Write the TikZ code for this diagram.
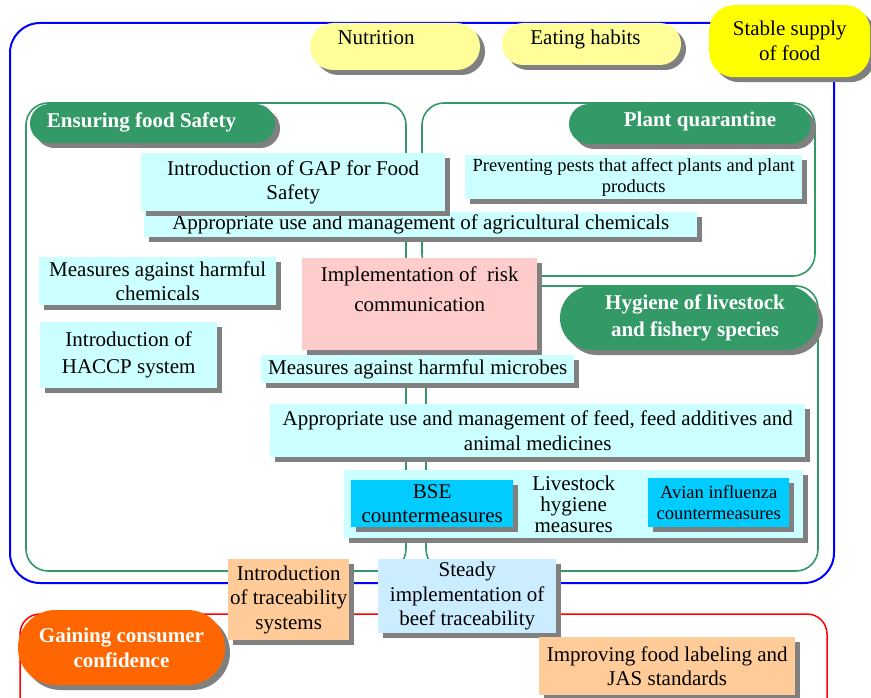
\documentclass[tikz,border=0pt]{standalone}
\usepackage{fontspec}
\setmainfont{Liberation Serif}
\usetikzlibrary{shapes.misc,shadows}
\definecolor{cyanbox}{HTML}{CCFFFF}
\definecolor{pinkbox}{HTML}{FFCCCC}
\definecolor{skybox}{HTML}{00CCFF}
\definecolor{peachbox}{HTML}{FFCC99}
\definecolor{steadybox}{HTML}{CCECFF}
\definecolor{greenpill}{HTML}{339966}
\definecolor{orangepill}{HTML}{FF6600}
\definecolor{lightyellow}{HTML}{FFFF99}
\definecolor{brightyellow}{HTML}{FFFF00}
\definecolor{shadowgray}{HTML}{808080}
\begin{document}
\begin{tikzpicture}[x=1pt,y=-1pt,
  sh/.style={general shadow={fill=shadowgray, shadow xshift=5pt, shadow yshift=-5pt}},
  box/.style={sh, draw=none, fill=#1, inner sep=0pt, align=center, anchor=north west,
    font=\fontsize{21}{24.5}\selectfont},
  pill/.style={box=#1, rounded rectangle, anchor=center},
  whitebold/.style={text=white, font=\fontsize{21}{25}\selectfont\bfseries},
  frame/.style={line width=1.6pt, draw=greenpill, rounded corners=22pt},
]
\useasboundingbox (0,0) rectangle (871,698);

% frames
\draw[line width=2pt, draw=blue, rounded corners=30pt] (10,23) rectangle (834,583);
\draw[frame] (26,103) rectangle (406,571);
\draw[frame] (422,103) rectangle (815,276);
\draw[frame] (426,286) rectangle (818,571);
\draw[line width=1.5pt, draw=red, rounded corners=20pt] (20,614) rectangle (827,730);

% top pills
\node[pill=lightyellow, minimum width=170pt, minimum height=47pt, text height=14pt, text depth=17pt] (nutr) at (395,46.5) {Nutrition\hspace{38pt}};
\node[pill=lightyellow, minimum width=179pt, minimum height=42pt, text height=14pt, text depth=12pt] (eat) at (591.5,44) {Eating habits\hspace{12pt}};
\node[box=brightyellow, rounded corners=25pt, minimum width=161pt, minimum height=72pt,
  font=\fontsize{21}{25}\selectfont] (stable) at (709,5) {Stable supply\\of food};

% section pills
\node[pill=greenpill, whitebold, minimum width=245pt, minimum height=39pt, text height=14pt, text depth=5pt] (efs) at (152.5,123.5) {Ensuring food Safety\hspace{22pt}};
\node[pill=greenpill, whitebold, minimum width=242pt, minimum height=40pt, text height=14pt, text depth=8pt] (pq) at (690,124) {\hspace{20pt}Plant quarantine};

% food safety boxes
\node[box=cyanbox, minimum width=553pt, minimum height=25pt] (agri) at (144,212) {Appropriate use and management of agricultural chemicals};
\node[box=cyanbox, minimum width=304pt, minimum height=58pt] (gap) at (141,153) {Introduction of GAP for Food\\Safety};
\node[box=cyanbox, minimum width=337pt, minimum height=44pt, font=\fontsize{18.5}{21}\selectfont] (pests) at (465,155) {Preventing pests that affect plants and plant\\products};
\node[box=cyanbox, minimum width=237pt, minimum height=48pt] (harmchem) at (39,257) {Measures against harmful\\chemicals};
\node[box=cyanbox, minimum width=177pt, minimum height=66pt, font=\fontsize{21}{27}\selectfont] (haccp) at (40,322) {Introduction of\\HACCP system};
\node[box=pinkbox, minimum width=235pt, minimum height=92pt, font=\fontsize{21}{30}\selectfont] (risk) at (302,258) {Implementation of\ \ risk\\communication\\ ~};
\node[box=cyanbox, minimum width=313pt, minimum height=28pt] (microbes) at (261,355) {Measures against harmful microbes};

% hygiene
\node[pill=greenpill, whitebold, minimum width=258pt, minimum height=64pt, font=\fontsize{21}{27}\selectfont\bfseries] (hyg) at (689,318) {\hspace{12pt}Hygiene of livestock\\\hspace{12pt}and fishery species};
\node[box=cyanbox, minimum width=535pt, minimum height=53pt] (feed) at (270,404) {Appropriate use and management of feed, feed additives and\\animal medicines};
\node[box=cyanbox, minimum width=459pt, minimum height=68pt, font=\fontsize{21}{21}\selectfont] (livestock) at (344,470) {Livestock\\hygiene\\measures};
\node[box=skybox, minimum width=162pt, minimum height=47pt] (bse) at (351,480) {BSE\\countermeasures};
\node[box=skybox, minimum width=141pt, minimum height=49pt, font=\fontsize{18.5}{21}\selectfont] (avian) at (648,478) {Avian influenza\\countermeasures};

% traceability and consumer confidence
\node[box=peachbox, minimum width=121pt, minimum height=81pt] (trace) at (228,559) {Introduction\\of traceability\\systems};
\node[box=steadybox, minimum width=178pt, minimum height=74pt] (steady) at (378,559) {Steady\\implementation of\\beef traceability};
\node[pill=orangepill, whitebold, minimum width=207pt, minimum height=75pt] (gain) at (121.5,647.5) {Gaining consumer\\confidence};
\node[box=peachbox, minimum width=256pt, minimum height=58pt] (label) at (539,637) {Improving food labeling and\\JAS standards};
\end{tikzpicture}
\end{document}
